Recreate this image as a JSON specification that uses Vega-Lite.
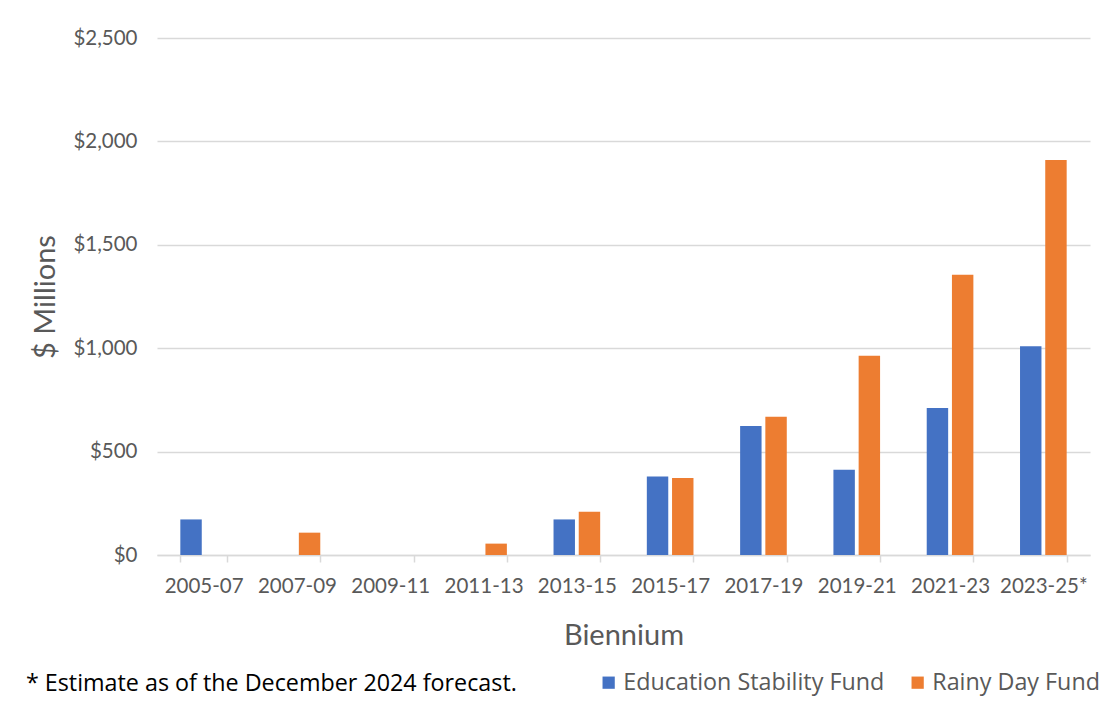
{
  "$schema": "https://vega.github.io/schema/vega-lite/v6.json",
  "autosize": "none",
  "width": 933,
  "height": 517,
  "padding": {"left": 157, "top": 38, "right": 22, "bottom": 160},
  "background": "white",
  "config": {
    "font": "Lato",
    "view": {"stroke": null}
  },
  "title": {
    "text": "* Estimate as of the December 2024 forecast.",
    "orient": "bottom",
    "anchor": "start",
    "frame": "bounds",
    "offset": -21,
    "dx": -6,
    "fontSize": 23.3,
    "fontWeight": "normal",
    "color": "#000000",
    "font": "Open Sans"
  },
  "data": {
    "values": [
      {"biennium": "2005-07", "fund": "Education Stability Fund", "amount": 172},
      {"biennium": "2007-09", "fund": "Rainy Day Fund", "amount": 108},
      {"biennium": "2011-13", "fund": "Rainy Day Fund", "amount": 55},
      {"biennium": "2013-15", "fund": "Education Stability Fund", "amount": 172},
      {"biennium": "2013-15", "fund": "Rainy Day Fund", "amount": 209},
      {"biennium": "2015-17", "fund": "Education Stability Fund", "amount": 379},
      {"biennium": "2015-17", "fund": "Rainy Day Fund", "amount": 372},
      {"biennium": "2017-19", "fund": "Education Stability Fund", "amount": 624},
      {"biennium": "2017-19", "fund": "Rainy Day Fund", "amount": 668},
      {"biennium": "2019-21", "fund": "Education Stability Fund", "amount": 412},
      {"biennium": "2019-21", "fund": "Rainy Day Fund", "amount": 963},
      {"biennium": "2021-23", "fund": "Education Stability Fund", "amount": 711},
      {"biennium": "2021-23", "fund": "Rainy Day Fund", "amount": 1355},
      {"biennium": "2023-25*", "fund": "Education Stability Fund", "amount": 1010},
      {"biennium": "2023-25*", "fund": "Rainy Day Fund", "amount": 1910}
    ]
  },
  "mark": {"type": "bar"},
  "encoding": {
    "x": {
      "field": "biennium",
      "type": "nominal",
      "sort": ["2005-07", "2007-09", "2009-11", "2011-13", "2013-15", "2015-17", "2017-19", "2019-21", "2021-23", "2023-25*"],
      "scale": {
        "domain": ["2005-07", "2007-09", "2009-11", "2011-13", "2013-15", "2015-17", "2017-19", "2019-21", "2021-23", "2023-25*"],
        "paddingInner": 0.5,
        "paddingOuter": 0.25
      },
      "axis": {
        "title": "Biennium",
        "titleFontSize": 29,
        "titleFontWeight": "normal",
        "titleColor": "#595959",
        "titlePadding": 25,
        "labelAngle": 0,
        "labelFontSize": 20.5,
        "labelColor": "#595959",
        "labelPadding": 14,
        "tickBand": "extent",
        "tickColor": "#D9D9D9",
        "tickWidth": 1.5,
        "tickSize": 7,
        "domainColor": "#D9D9D9",
        "domainWidth": 1.5,
        "grid": false
      }
    },
    "xOffset": {
      "field": "fund",
      "type": "nominal",
      "scale": {"paddingInner": 0.15, "paddingOuter": 0}
    },
    "y": {
      "field": "amount",
      "type": "quantitative",
      "scale": {"domain": [0, 2500], "nice": false},
      "axis": {
        "title": "$ Millions",
        "titleFontSize": 29,
        "titleFontWeight": "normal",
        "titleColor": "#595959",
        "titlePadding": 12,
        "format": "$,.0f",
        "values": [0, 500, 1000, 1500, 2000, 2500],
        "labelOverlap": false,
        "labelFontSize": 20.5,
        "labelColor": "#595959",
        "labelPadding": 20,
        "domain": false,
        "ticks": false,
        "gridColor": "#D9D9D9",
        "gridWidth": 1.5
      }
    },
    "color": {
      "field": "fund",
      "type": "nominal",
      "scale": {
        "domain": ["Education Stability Fund", "Rainy Day Fund"],
        "range": ["#4472C4", "#ED7D31"]
      },
      "legend": {
        "title": null,
        "orient": "none",
        "direction": "horizontal",
        "legendX": 440,
        "legendY": 633,
        "symbolType": "square",
        "symbolSize": 150,
        "symbolStrokeWidth": 0,
        "labelFont": "Open Sans",
        "labelFontSize": 23.3,
        "labelColor": "#595959",
        "labelOffset": 3,
        "labelLimit": 400,
        "columnPadding": 21
      }
    }
  }
}
